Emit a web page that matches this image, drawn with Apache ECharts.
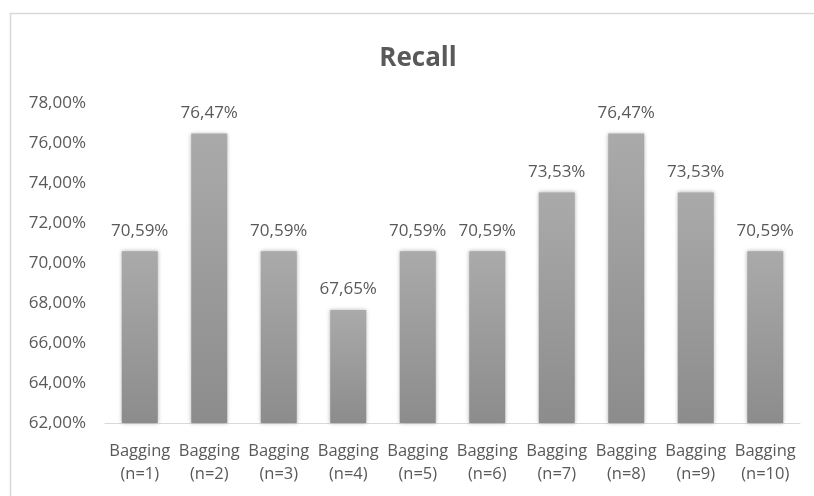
<!DOCTYPE html>
<html><head><meta charset="utf-8">
<script src="https://cdn.jsdelivr.net/npm/echarts@6/dist/echarts.min.js"></script>
<style>html,body{margin:0;padding:0;background:#fff;}#c{width:814px;height:496px;}</style>
</head><body><div id="c"></div>
<script>
const categories = ['Bagging\n(n=1)','Bagging\n(n=2)','Bagging\n(n=3)','Bagging\n(n=4)','Bagging\n(n=5)','Bagging\n(n=6)','Bagging\n(n=7)','Bagging\n(n=8)','Bagging\n(n=9)','Bagging\n(n=10)'];
const recall = [70.59, 76.47, 70.59, 67.65, 70.59, 70.59, 73.53, 76.47, 73.53, 70.59];
const yMin = 62, yMax = 78, yStep = 2;
const fmt = v => v.toFixed(2).replace('.', ',') + '%';
const font = 'Open Sans';
const chart = echarts.init(document.getElementById('c'));
chart.setOption({
  animation: false,
  graphic: [{type:'rect', shape:{x:10.5,y:13.5,width:820,height:500}, style:{fill:'none',stroke:'#d9d9d9',lineWidth:1.5}, silent:true}],
  title: {text:'Recall', left:413, top:41, textAlign:'center', textStyle:{fontFamily:font, fontSize:26, fontWeight:'bold', color:'#595959'}},
  grid: {left:105, right:14, top:103, bottom:73},
  xAxis: {type:'category', data:categories, axisLine:{lineStyle:{color:'#d9d9d9',width:1}}, axisTick:{show:false},
    axisLabel:{fontFamily:font, fontSize:16.5, color:'#595959', lineHeight:23, margin:17, interval:0}},
  yAxis: {type:'value', min:yMin, max:yMax, interval:yStep, splitLine:{show:false}, axisLine:{show:false}, axisTick:{show:false},
    axisLabel:{fontFamily:font, fontSize:17, color:'#595959', margin:19, formatter:v=>fmt(v)}},
  series: [{type:'bar', data:recall, barWidth:36,
    itemStyle:{color:new echarts.graphic.LinearGradient(0,0,0,1,[{offset:0,color:'#aaaaaa'},{offset:1,color:'#8c8c8c'}]), shadowBlur:4, shadowColor:'rgba(0,0,0,0.3)', shadowOffsetX:0, shadowOffsetY:0},
    label:{show:true, position:'top', distance:12, fontFamily:font, fontSize:17, color:'#595959', formatter:p=>fmt(p.value)}}]
});
</script></body></html>
